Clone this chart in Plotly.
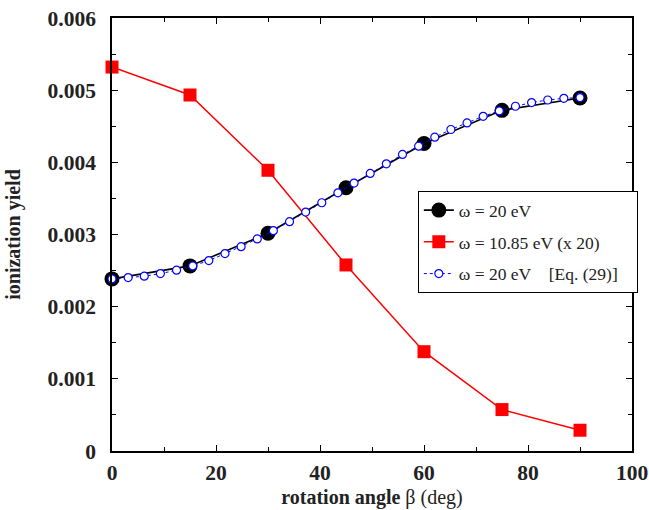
import plotly.graph_objects as go

# Data
angle_coarse = [0, 15, 30, 45, 60, 75, 90]
yield_w20 = [0.002385, 0.002565, 0.003017, 0.003648, 0.004261, 0.004720, 0.004892]
yield_w1085_x20 = [0.00532, 0.004933, 0.00389, 0.002578, 0.001376, 0.000574, 0.000288]

angle_fine = [i * 90 / 29 for i in range(30)]
yield_eq29 = [0.002385, 0.002403, 0.002422, 0.002458, 0.002505, 0.002565, 0.002638,
              0.002735, 0.002831, 0.002938, 0.003053, 0.003178, 0.003311, 0.003440,
              0.003578, 0.003712, 0.003846, 0.003980, 0.004109, 0.004224, 0.004348,
              0.004455, 0.004546, 0.004638, 0.004712, 0.004777, 0.004828, 0.004864,
              0.004887, 0.004897]

x_ticks = [0, 20, 40, 60, 80, 100]
y_ticks = [0, 0.001, 0.002, 0.003, 0.004, 0.005, 0.006]
y_tick_labels = ["0", "0.001", "0.002", "0.003", "0.004", "0.005", "0.006"]

names = ["ω = 20 eV", "ω = 10.85 eV (x 20)",
         "ω = 20 eV\u00a0\u00a0\u00a0\u00a0[Eq. (29)]\u00a0\u00a0\u00a0"]

FONT = "Liberation Serif"

fig = go.Figure()
fig.add_trace(go.Scatter(
    x=angle_coarse, y=yield_w1085_x20, mode="lines+markers", name=names[1],
    line=dict(color="#ff0000", width=1.5),
    marker=dict(symbol="square", size=13, color="#ff0000"),
    cliponaxis=False, legendrank=2, legendgroup="b"))
fig.add_trace(go.Scatter(
    x=angle_coarse, y=yield_w20, mode="lines+markers", name=names[0],
    line=dict(color="black", width=1.6),
    marker=dict(symbol="circle", size=15, color="black"),
    cliponaxis=False, legendrank=1, legendgroup="a"))
fig.add_trace(go.Scatter(
    x=angle_fine, y=yield_eq29, mode="lines+markers", name=names[2],
    line=dict(color="#0000ff", width=1, dash="dot"),
    marker=dict(symbol="circle", size=8, color="white",
                line=dict(color="#0000ff", width=1.2)),
    cliponaxis=False, legendrank=3, legendgroup="c"))

axis_common = dict(
    showline=True, linecolor="black", linewidth=1.5, mirror="allticks",
    ticks="inside", ticklen=6, tickwidth=1, tickcolor="black",
    showgrid=False, zeroline=False, automargin=False, ticklabeloverflow="allow",
    tickfont=dict(family=FONT, size=21.5, color="#222", weight="bold"),
)

fig.update_xaxes(
    range=[0, 100], tickmode="array", tickvals=x_ticks,
    minor=dict(dtick=10, ticks="inside", ticklen=4, tickcolor="black", showgrid=False),
    title=dict(text="<b>rotation angle</b> β (deg)", font=dict(family=FONT, size=20, color="#222"),
               standoff=6),
    ticklabelstandoff=1,
    **axis_common)
fig.update_yaxes(
    range=[0, 0.006], tickmode="array", tickvals=y_ticks, ticktext=y_tick_labels,
    minor=dict(dtick=0.0005, ticks="inside", ticklen=4, tickcolor="black", showgrid=False),
    title=dict(text="<b>ionization yield</b>", font=dict(family=FONT, size=20, color="#222"),
               standoff=22),
    ticklabelstandoff=10,
    **axis_common)

fig.update_layout(
    width=649, height=510,
    margin=dict(l=112, r=16, t=17.5, b=58.5),
    paper_bgcolor="white", plot_bgcolor="white",
    font=dict(family=FONT, color="#222"),
    showlegend=True,
    legend=dict(
        x=0.587, y=0.600, xanchor="left", yanchor="top",
        bgcolor="white", bordercolor="black", borderwidth=1,
        font=dict(family=FONT, size=17.5, color="#222"),
        traceorder="grouped", tracegroupgap=6,
    ),
)

# Remove the default page margin so the 649x510 figure fills the window exactly.
fig.write_html(
    "out.html",
    config={"displayModeBar": False},
    post_script="document.body.style.margin='0';document.body.style.overflow='hidden';",
)
